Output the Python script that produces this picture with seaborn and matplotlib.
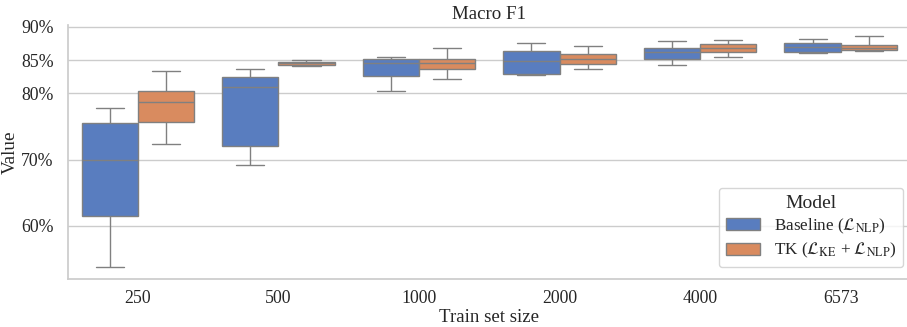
import numpy as np
import pandas as pd
import matplotlib
matplotlib.use("Agg")
import matplotlib.pyplot as plt
import seaborn as sns
from matplotlib.ticker import FuncFormatter

# Train set sizes (categories)
train_sizes = ["250", "500", "1000", "2000", "4000", "6573"]

# Five-number summaries (min, Q1, median, Q3, max), in %
baseline = [
    [53.8, 61.5, 70.0, 75.5, 77.8],
    [69.2, 72.0, 80.9, 82.5, 83.7],
    [80.4, 82.6, 84.6, 85.2, 85.5],
    [82.8, 82.9, 84.9, 86.4, 87.6],
    [84.2, 85.1, 86.2, 86.9, 87.9],
    [86.1, 86.3, 87.0, 87.6, 88.2],
]
tk = [
    [72.4, 75.6, 78.7, 80.4, 83.4],
    [84.1, 84.3, 84.5, 84.7, 85.0],
    [82.1, 83.7, 84.5, 85.1, 86.9],
    [83.6, 84.4, 85.2, 85.9, 87.2],
    [85.4, 86.2, 86.8, 87.4, 88.0],
    [86.4, 86.5, 86.8, 87.3, 88.6],
]
model_labels = [r"Baseline ($\mathcal{L}_{\mathrm{NLP}}$)",
                r"TK ($\mathcal{L}_{\mathrm{KE}}$ + $\mathcal{L}_{\mathrm{NLP}}$)"]
y_ticks = [60, 70, 80, 85, 90]

rows = []
for size, b, t in zip(train_sizes, baseline, tk):
    for v in b:
        rows.append({"Train set size": size, "Value": v, "Model": model_labels[0]})
    for v in t:
        rows.append({"Train set size": size, "Value": v, "Model": model_labels[1]})
df = pd.DataFrame(rows)

sns.set_theme(style="whitegrid", context="notebook", font_scale=1.12)
plt.rcParams["font.family"] = ["Liberation Serif", "DejaVu Serif"]
plt.rcParams["mathtext.fontset"] = "stix"

fig = plt.figure(figsize=(9.07, 3.27), dpi=100)
ax = fig.add_axes([67.5 / 907, 1 - 279 / 327, (911 - 67.5) / 907, (279 - 25) / 327])

sns.boxplot(data=df, x="Train set size", y="Value", hue="Model",
            palette="muted", whis=np.inf, linecolor="0.5", ax=ax)

ax.set_ylim(52.0, 90.3)
ax.set_yticks(y_ticks)
ax.yaxis.set_major_formatter(FuncFormatter(lambda v, p: f"{v:.0f}%"))
ax.tick_params(axis="both", labelsize=12.8)
ax.tick_params(axis="y", pad=4)
ax.tick_params(axis="x", pad=2)
ax.set_title("Macro F1", pad=4, fontsize=13.6)
ax.set_xlabel("Train set size", labelpad=1, fontsize=13.6)
ax.set_ylabel("Value", fontsize=13.8)
ax.yaxis.set_label_coords(-0.058, 0.5)
sns.despine(ax=ax, top=True, right=True)

leg = ax.legend(title="Model", loc="lower right", bbox_to_anchor=(0.9905, 0.047),
                borderaxespad=0, fontsize=12.3, title_fontsize=14,
                labelspacing=0.3)

fig.savefig("out.png", dpi=100)
